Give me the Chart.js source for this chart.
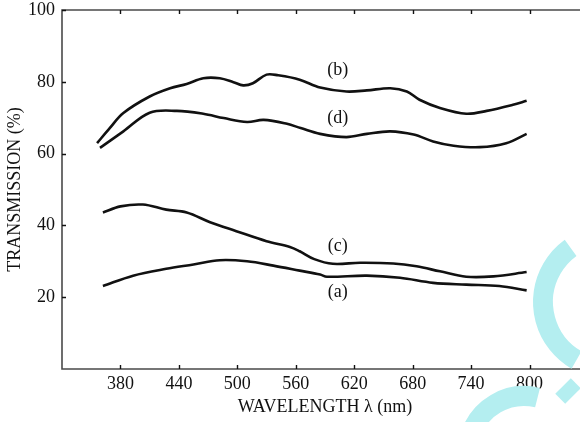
<!DOCTYPE html>
<html>
<head>
<meta charset="utf-8">
<title>Transmission spectra</title>
<script src="https://cdn.jsdelivr.net/npm/chart.js@4.4.1/dist/chart.umd.min.js"></script>
<style>
  html, body { margin: 0; padding: 0; background: #fff; overflow: hidden; }
  #wrap { width: 580px; height: 422px; overflow: hidden; }
  #chart { display: block; }
</style>
</head>
<body>
<div id="wrap"><canvas id="chart" width="600" height="422"></canvas></div>
<script>
// ---- axis ticks ----
const X_TICKS = [380, 440, 500, 560, 620, 680, 740, 800];
const Y_TICKS = [20, 40, 60, 80, 100];

// ---- measured spectra: wavelength (nm) / transmission (%) ----
const wlA    = [362, 393, 427, 455, 482, 510, 537, 564, 585, 592, 633, 667, 701, 735, 769, 797];
const curveA = [23.1, 26.0, 27.9, 29.1, 30.3, 30.0, 28.8, 27.4, 26.3, 25.7, 26.0, 25.4, 24.0, 23.5, 23.1, 21.9];

const wlB    = [356, 369, 383, 410, 431, 448, 465, 482, 496, 506, 516, 530, 542, 564, 585, 612, 633, 657, 674, 687, 708, 735, 756, 783, 797];
const curveB = [62.9, 67.1, 71.3, 75.9, 78.2, 79.4, 81.0, 81.0, 79.9, 79.0, 79.6, 82.0, 81.8, 80.6, 78.4, 77.3, 77.6, 78.2, 77.3, 75.0, 72.7, 71.1, 71.9, 73.6, 74.7];

const wlC    = [362, 380, 403, 427, 448, 472, 499, 530, 554, 564, 579, 598, 626, 660, 684, 708, 735, 763, 797];
const curveC = [43.6, 45.3, 45.8, 44.4, 43.6, 40.9, 38.4, 35.6, 34.0, 32.8, 30.6, 29.3, 29.6, 29.4, 28.6, 27.2, 25.7, 25.8, 27.0];

const wlD    = [359, 383, 410, 438, 465, 486, 510, 527, 551, 565, 585, 612, 633, 657, 681, 701, 722, 749, 776, 797];
const curveD = [61.6, 66.2, 71.4, 71.9, 71.1, 69.9, 68.8, 69.4, 68.3, 67.1, 65.5, 64.6, 65.5, 66.2, 65.3, 63.4, 62.2, 61.8, 62.9, 65.5];

// curve tags, anchored in data coordinates
const TAGS   = ['(a)', '(b)', '(c)', '(d)'];
const TAG_WL = [603, 603, 603, 603];
const TAG_T  = [21.4, 83.1, 34.1, 69.8];

const FONT = "'Liberation Serif', 'Times New Roman', serif";
const INK = '#111';
const AXIS = '#4a4a4a';
const DEG = Math.PI / 180;

const toPoints = (xs, ys) => xs.map((x, i) => ({ x, y: ys[i] }));

function curve(xs, ys) {
    return {
        data: toPoints(xs, ys),
        borderColor: INK,
        borderWidth: 2.6,
        pointRadius: 0,
        tension: 0.35,
        fill: false,
    };
}

// frame lines (left, bottom, top) and inward tick marks
const framePlugin = {
    id: 'frame',
    afterDatasetsDraw(chart) {
        const { ctx, chartArea: a, scales: { x, y } } = chart;
        ctx.save();
        ctx.strokeStyle = AXIS;
        ctx.lineWidth = 1.6;
        ctx.beginPath();
        ctx.moveTo(a.right + 20, a.top);
        ctx.lineTo(a.left, a.top);
        ctx.lineTo(a.left, a.bottom);
        ctx.lineTo(a.right + 20, a.bottom);
        ctx.stroke();

        ctx.strokeStyle = INK;
        ctx.lineWidth = 1.4;
        ctx.beginPath();
        X_TICKS.forEach((v) => {
            const px = Math.round(x.getPixelForValue(v)) + 0.5;
            ctx.moveTo(px, a.bottom);
            ctx.lineTo(px, a.bottom - 4);
            ctx.moveTo(px, a.top);
            ctx.lineTo(px, a.top + 4);
        });
        Y_TICKS.forEach((v) => {
            const py = Math.round(y.getPixelForValue(v)) + 0.5;
            ctx.moveTo(a.left, py);
            ctx.lineTo(a.left + 4, py);
        });
        ctx.stroke();

        // curve tags
        ctx.fillStyle = INK;
        ctx.font = `18px ${FONT}`;
        ctx.textAlign = 'center';
        ctx.textBaseline = 'middle';
        TAGS.forEach((t, i) => {
            ctx.fillText(t, x.getPixelForValue(TAG_WL[i]), y.getPixelForValue(TAG_T[i]));
        });
        ctx.restore();
    },
};

// light cyan mark in the lower right corner
const markPlugin = {
    id: 'mark',
    afterDraw(chart) {
        const { ctx } = chart;
        ctx.save();
        ctx.strokeStyle = 'rgb(180, 238, 240)';
        ctx.fillStyle = 'rgb(180, 238, 240)';
        ctx.lineWidth = 20;
        ctx.lineCap = 'butt';
        ctx.beginPath();
        ctx.arc(610, 302, 67, 120 * DEG, 234 * DEG);
        ctx.stroke();
        ctx.beginPath();
        ctx.arc(524, 452, 56, 195 * DEG, 284 * DEG);
        ctx.stroke();
        ctx.translate(568, 391);
        ctx.rotate(-45 * DEG);
        ctx.fillRect(-11, -7, 22, 14);
        ctx.restore();
    },
};

new Chart(document.getElementById('chart'), {
    type: 'line',
    data: {
        datasets: [curve(wlA, curveA), curve(wlB, curveB), curve(wlC, curveC), curve(wlD, curveD)],
    },
    options: {
        responsive: false,
        animation: false,
        events: [],
        layout: { padding: { top: 10, right: 12, left: 0, bottom: 0 } },
        plugins: { legend: { display: false }, tooltip: { enabled: false } },
        scales: {
            x: {
                type: 'linear',
                min: 320,
                max: 860,
                afterBuildTicks: (s) => { s.ticks = X_TICKS.map((value) => ({ value })); },
                afterFit: (s) => { s.height = 53; s.paddingLeft = 0; s.paddingRight = 0; },
                grid: { display: false, drawTicks: false },
                border: { display: false },
                ticks: { autoSkip: false, maxRotation: 0, padding: 4, color: INK, font: { family: FONT, size: 18 } },
                title: { display: true, text: 'WAVELENGTH λ (nm)', color: INK, font: { family: FONT, size: 18 }, padding: { top: 0, bottom: 4 } },
            },
            y: {
                min: 0,
                max: 100,
                afterBuildTicks: (s) => { s.ticks = Y_TICKS.map((value) => ({ value })); },
                afterFit: (s) => { s.width = 62; s.paddingTop = 0; s.paddingBottom = 0; },
                grid: { display: false, drawTicks: false },
                border: { display: false },
                ticks: { padding: 7, color: INK, font: { family: FONT, size: 18 } },
                title: { display: true, text: 'TRANSMISSION (%)', color: INK, font: { family: FONT, size: 18 }, padding: { top: 4, bottom: 0 } },
            },
        },
    },
    plugins: [framePlugin, markPlugin],
});
</script>
</body>
</html>
